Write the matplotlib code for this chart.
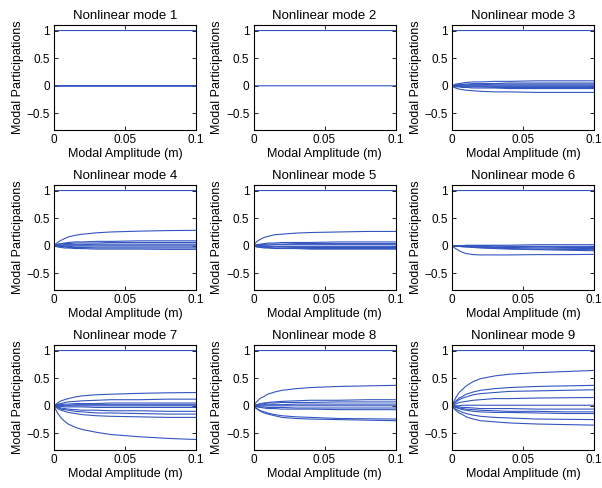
import numpy as np
import matplotlib.pyplot as plt

plt.rcParams['font.family'] = ['Liberation Sans', 'DejaVu Sans']
plt.rcParams['font.size'] = 9

# modal amplitude samples (m)
amp = [0, 0.001, 0.0025, 0.005, 0.0075, 0.01, 0.015, 0.02, 0.03, 0.04, 0.06, 0.08, 0.1]

one = [1] * 13
zero = [0] * 13

mode1 = [one, zero, [0.004] * 13, [-0.004] * 13, zero]
mode2 = [one, zero]
mode3 = [one,
         [0, .01, .03, .04, .05, .06, .07, .07, .08, .08, .09, .09, .09],
         [0, .01, .02, .02, .03, .03, .04, .04, .04, .05, .05, .05, .05],
         [0, 0, .01, .01, .02, .02, .02, .02, .03, .03, .03, .03, .03],
         [0, 0, 0, 0, .01, .01, .01, .01, .01, .01, .01, .01, .01],
         [0, 0, 0, 0, -.01, -.01, -.01, -.01, -.01, -.01, -.01, -.01, -.01],
         [0, 0, -.01, -.01, -.02, -.02, -.02, -.02, -.03, -.03, -.03, -.03, -.03],
         [0, -.01, -.02, -.02, -.03, -.03, -.04, -.04, -.04, -.05, -.05, -.05, -.05],
         [0, -.02, -.04, -.06, -.07, -.08, -.09, -.10, -.11, -.11, -.12, -.12, -.12]]
mode4 = [one,
         [0, .03, .06, .10, .13, .16, .19, .21, .235, .25, .265, .275, .28],
         [0, .01, .03, .04, .05, .06, .07, .07, .08, .08, .09, .09, .09],
         [0, .01, .02, .03, .04, .04, .05, .05, .05, .06, .06, .06, .06],
         [0, 0, .01, .01, .02, .02, .02, .02, .03, .03, .03, .03, .03],
         [0, 0, 0, 0, .01, .01, .01, .01, .01, .01, .01, .01, .01],
         [0, 0, -.01, -.01, -.01, -.01, -.02, -.02, -.02, -.02, -.02, -.02, -.02],
         [0, -.01, -.01, -.02, -.02, -.03, -.03, -.03, -.04, -.04, -.04, -.04, -.04],
         [0, -.01, -.02, -.03, -.04, -.04, -.05, -.05, -.06, -.06, -.06, -.065, -.065]]
mode5 = [one,
         [0, .04, .08, .12, .15, .17, .20, .21, .23, .24, .25, .26, .26],
         [0, .01, .02, .03, .04, .05, .05, .06, .06, .06, .07, .07, .07],
         [0, .01, .01, .02, .02, .03, .03, .03, .04, .04, .04, .04, .04],
         [0, 0, .01, .01, .01, .01, .02, .02, .02, .02, .02, .02, .02],
         [0, 0, 0, 0, -.01, -.01, -.01, -.01, -.01, -.01, -.01, -.01, -.01],
         [0, 0, -.01, -.01, -.02, -.02, -.02, -.02, -.03, -.03, -.03, -.03, -.03],
         [0, -.01, -.02, -.02, -.03, -.03, -.04, -.04, -.04, -.05, -.05, -.05, -.05],
         [0, -.01, -.02, -.03, -.04, -.04, -.05, -.05, -.05, -.06, -.06, -.06, -.06]]
mode6 = [one,
         [0, -.02, -.05, -.09, -.12, -.14, -.16, -.165, -.165, -.165, -.16, -.16, -.155],
         [0, 0, 0, 0, 0, .01, .01, .01, .01, .01, .02, .02, .02],
         [0, 0, 0, 0, 0, 0, 0, 0, 0, -.01, -.01, -.01, -.01],
         [0, 0, 0, 0, -.01, -.01, -.01, -.01, -.02, -.02, -.02, -.03, -.03],
         [0, 0, 0, -.01, -.01, -.01, -.02, -.02, -.03, -.03, -.04, -.045, -.05],
         [0, 0, -.01, -.01, -.01, -.02, -.02, -.03, -.04, -.05, -.06, -.065, -.07],
         [0, 0, -.01, -.01, -.02, -.02, -.03, -.04, -.05, -.06, -.07, -.08, -.09]]
mode7 = [one,
         [0, .02, .05, .09, .11, .13, .16, .18, .20, .21, .225, .235, .24],
         [0, .01, .03, .04, .06, .07, .08, .09, .10, .11, .11, .12, .12],
         [0, .01, .02, .02, .03, .03, .04, .04, .04, .05, .05, .05, .05],
         [0, 0, .01, .01, .01, .01, .02, .02, .02, .02, .02, .02, .02],
         zero,
         [0, 0, -.01, -.01, -.02, -.02, -.02, -.02, -.03, -.03, -.03, -.03, -.03],
         [0, -.01, -.02, -.04, -.05, -.06, -.07, -.08, -.08, -.09, -.09, -.10, -.10],
         [0, -.02, -.03, -.06, -.07, -.08, -.10, -.11, -.13, -.13, -.14, -.15, -.15],
         [0, -.02, -.05, -.08, -.10, -.12, -.14, -.16, -.18, -.19, -.20, -.21, -.21],
         [0, -.06, -.13, -.22, -.28, -.33, -.39, -.43, -.48, -.52, -.56, -.59, -.61]]
mode8 = [one,
         [0, .04, .08, .14, .17, .21, .25, .28, .31, .33, .35, .36, .37],
         [0, .01, .02, .04, .05, .06, .07, .08, .09, .10, .10, .11, .11],
         [0, .01, .02, .03, .04, .05, .05, .06, .06, .06, .07, .07, .07],
         [0, 0, .01, .01, .02, .02, .02, .02, .03, .03, .03, .03, .03],
         zero,
         [0, -.01, -.01, -.02, -.02, -.03, -.03, -.03, -.04, -.04, -.04, -.04, -.04],
         [0, -.01, -.02, -.03, -.04, -.05, -.05, -.06, -.06, -.06, -.07, -.07, -.07],
         [0, -.02, -.05, -.09, -.11, -.13, -.16, -.18, -.20, -.21, -.23, -.235, -.24],
         [0, -.03, -.06, -.10, -.13, -.15, -.18, -.21, -.23, -.24, -.25, -.26, -.27]]
mode9 = [one,
         [0, .06, .14, .24, .30, .36, .44, .49, .54, .57, .60, .62, .64],
         [0, .04, .08, .14, .17, .21, .25, .28, .31, .33, .35, .36, .37],
         [0, .03, .06, .11, .14, .16, .20, .22, .24, .26, .27, .28, .29],
         [0, .02, .03, .06, .07, .08, .10, .11, .13, .13, .14, .145, .15],
         [0, 0, 0, 0, .01, .01, .01, .01, .01, .01, .01, .01, .01],
         [0, -.01, -.01, -.02, -.03, -.03, -.04, -.05, -.05, -.05, -.06, -.06, -.06],
         [0, -.01, -.02, -.04, -.05, -.06, -.07, -.08, -.09, -.10, -.10, -.11, -.11],
         [0, -.01, -.03, -.05, -.07, -.08, -.10, -.11, -.12, -.12, -.13, -.14, -.14],
         [0, -.03, -.06, -.09, -.12, -.14, -.17, -.19, -.21, -.22, -.24, -.245, -.25],
         [0, -.04, -.08, -.13, -.16, -.20, -.24, -.27, -.29, -.31, -.33, -.34, -.35]]

modes = [mode1, mode2, mode3, mode4, mode5, mode6, mode7, mode8, mode9]
titles = ["Nonlinear mode %d" % (i + 1) for i in range(9)]

fig = plt.figure(figsize=(6.02, 4.88), dpi=100)
lefts = [54, 253.5, 452]
tops = [25, 185, 345]
W, H = 142, 105

for i, curves in enumerate(modes):
    r, c = divmod(i, 3)
    ax = fig.add_axes([lefts[c] / 602, 1 - (tops[r] + H) / 488, W / 602, H / 488])
    for y in curves:
        ax.plot(amp, y, color='#3355c0', linewidth=0.8, snap=False)
    ax.set_xlim(0, 0.1)
    ax.set_ylim(-0.8, 1.1)
    ax.set_xticks([0, 0.05, 0.1])
    ax.set_xticklabels(['0', '0.05', '0.1'])
    ax.set_yticks([-0.5, 0, 0.5, 1])
    ax.set_yticklabels(['\u22120.5', '0', '0.5', '1'])
    ax.tick_params(direction='in', length=3, width=0.6, top=True, right=True,
                   pad=3, labelsize=8.5)
    for s in ax.spines.values():
        s.set_linewidth(0.8)
    ax.set_title(titles[i], fontsize=9.5, pad=4)
    ax.set_xlabel("Modal Amplitude (m)", labelpad=1)
    ax.set_ylabel("Modal Participations", labelpad=2)

plt.savefig('out.png', dpi=100)
